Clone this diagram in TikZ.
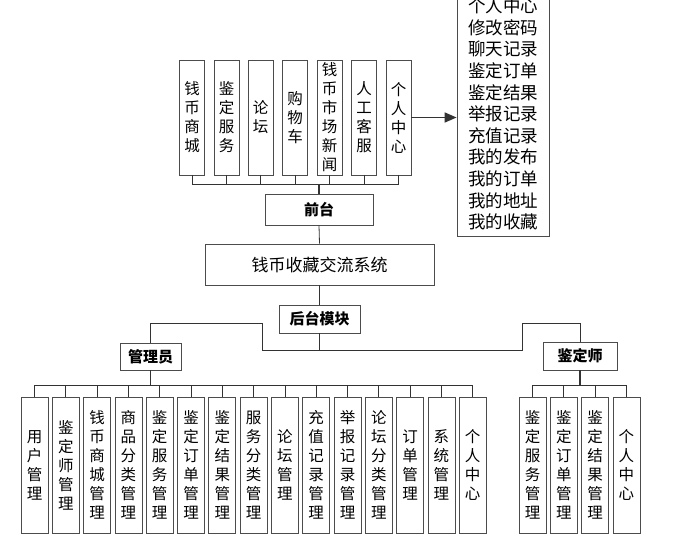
\documentclass[tikz,border=0pt]{standalone}
\usepackage{fontspec}
\setmainfont{Noto Sans CJK SC}
\usetikzlibrary{arrows.meta}
\begin{document}
\begin{tikzpicture}[x=1pt,y=-1pt,
  box/.style={draw=black!70,line width=0.8pt,fill=white,inner sep=0pt},
  vbox/.style={box,minimum width=25pt,align=center,font=\fontsize{15.5}{19}\selectfont},
  lbl/.style={box,font=\fontsize{15}{18}\selectfont\bfseries},
  ln/.style={draw=black!80,line width=0.8pt}]
\useasboundingbox (0,0) rectangle (690,544);
% front
\def\fx{{192,226.5,260.5,295,329.5,364,398.5}}
\foreach \t [count=\i from 0] in {钱\\币\\商\\城,鉴\\定\\服\\务,论\\坛,购\\物\\车,钱\\币\\市\\场\\新\\闻,人\\工\\客\\服,个\\人\\中\\心}{
  \pgfmathsetmacro\xx{\fx[\i]}
  \node[vbox,minimum height=115pt] (t\i) at (\xx,117.5) {\t};
  \draw[ln] (t\i.south) -- (\xx,184);
}
\draw[ln] (192,184) -- (398.5,184);
\node[lbl,minimum width=108pt,minimum height=31pt] (qt) at (319,209.5) {前台};
\draw[ln,line width=1.2pt] (319,184) -- (qt.north);
\node[box,minimum width=229pt,minimum height=41pt,font=\fontsize{17}{18}\selectfont] (sys) at (319.5,264.5) {钱币收藏交流系统};
\draw[ln] (qt.south) -- (sys.north);
\node[box,minimum width=92pt,minimum height=245pt,align=left,font=\fontsize{17.5}{21.6}\selectfont] (pc) at (503,114) {个人中心\\修改密码\\聊天记录\\鉴定订单\\鉴定结果\\举报记录\\充值记录\\我的发布\\我的订单\\我的地址\\我的收藏};
\draw[ln,line width=1.6pt,-{Triangle[length=12pt,width=10pt]}] (t6.east) -- (pc.west |- t6.east);
% back
\node[lbl,minimum width=81pt,minimum height=28pt] (ht) at (319.5,319) {后台模块};
\draw[ln] (sys.south) -- (ht.north);
\node[lbl,minimum width=61pt,minimum height=27pt] (gly) at (150.5,356.5) {管理员};
\node[lbl,minimum width=74pt,minimum height=28pt] (jds) at (580,356) {鉴定师};
\draw[ln] (ht.south) -- (319.5,350) -- (262,350) -- (262,323) -- (150.5,323) -- (gly.north);
\draw[ln] (319.5,350) -- (522,350) -- (522,323) -- (580,323) -- (jds.north);
\foreach \t [count=\i from 0] in {用\\户\\管\\理,鉴\\定\\师\\管\\理,钱\\币\\商\\城\\管\\理,商\\品\\分\\类\\管\\理,鉴\\定\\服\\务\\管\\理,鉴\\定\\订\\单\\管\\理,鉴\\定\\结\\果\\管\\理,服\\务\\分\\类\\管\\理,论\\坛\\管\\理,充\\值\\记\\录\\管\\理,举\\报\\记\\录\\管\\理,论\\坛\\分\\类\\管\\理,订\\单\\管\\理,系\\统\\管\\理,个\\人\\中\\心}{
  \pgfmathsetmacro\xx{34.5+\i*31.3}
  \node[vbox,minimum height=136pt,minimum width=27pt] (a\i) at (\xx,465) {\t};
  \draw[ln] (a\i.north) -- (\xx,385);
}
\draw[ln] (34.5,385) -- (a14.north |- 0,385);
\draw[ln,line width=1.2pt] (gly.south) -- (150.5,385);
\foreach \t [count=\i from 0] in {鉴\\定\\服\\务\\管\\理,鉴\\定\\订\\单\\管\\理,鉴\\定\\结\\果\\管\\理,个\\人\\中\\心}{
  \pgfmathsetmacro\xx{532.5+\i*31.3}
  \node[vbox,minimum height=136pt,minimum width=27pt] (b\i) at (\xx,465) {\t};
  \draw[ln] (b\i.north) -- (\xx,385);
}
\draw[ln] (532.5,385) -- (b3.north |- 0,385);
\draw[ln,line width=1.2pt] (jds.south) -- (580,385);
\end{tikzpicture}
\end{document}
